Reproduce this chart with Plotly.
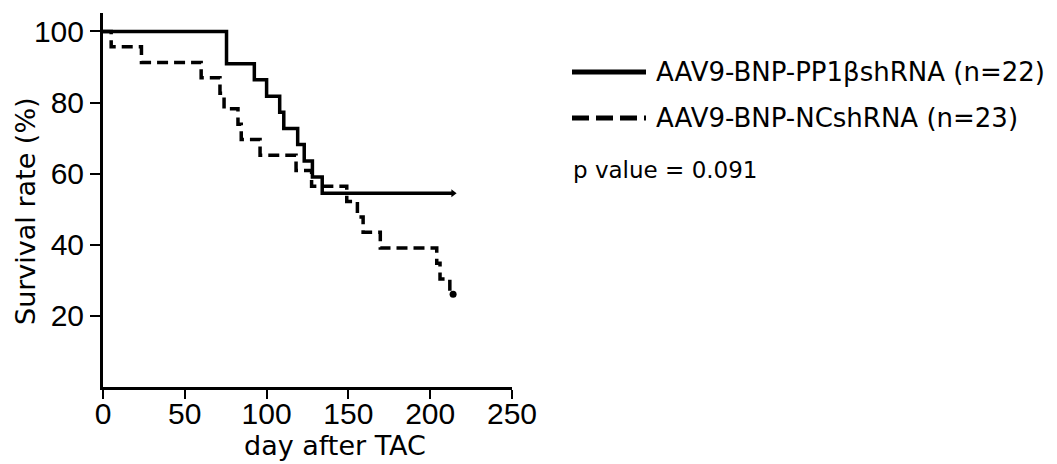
import plotly.graph_objects as go

# ---- data ----
series_names = ["AAV9-BNP-PP1βshRNA (n=22)", "AAV9-BNP-NCshRNA (n=23)"]
pp1_days = [0, 75.5, 92.5, 100, 108, 110.5, 119, 123, 128, 134]
pp1_surv = [100, 90.9, 86.4, 81.8, 77.3, 72.7, 68.2, 63.6, 59.1, 54.5]
pp1_end_day = 214

nc_days = [0, 5, 23.5, 60, 71.5, 74, 82.5, 84.5, 96, 118, 127.5, 149, 155.5, 159, 169.5, 204, 206, 212]
nc_surv = [100, 95.7, 91.3, 87.0, 82.6, 78.3, 73.9, 69.6, 65.2, 60.9, 56.5, 52.2, 47.8, 43.5, 39.1, 34.8, 30.4, 26.1]
nc_end_day = 214

x_ticks = [0, 50, 100, 150, 200, 250]
y_ticks = [20, 40, 60, 80, 100]
p_text = "p value = 0.091"

# ---- layout geometry (pixels, page has an 8px body margin) ----
OFF = 8
W, H = 1057 - OFF, 464 - OFF
PLOT_L, PLOT_R, PLOT_T, PLOT_B = 103, 512, 13, 387   # in reference pixels
ML = PLOT_L - OFF
MT = PLOT_T - OFF
MR = W - (PLOT_R - OFF)
MB = H - (PLOT_B - OFF)
PW = PLOT_R - PLOT_L
PH = PLOT_B - PLOT_T


def px_x(px):
    return (px - PLOT_L) / PW


def px_y(py):
    return (PLOT_B - py) / PH


TEXT_FONT = "DejaVu Sans"
TICK_FONT = "Liberation Sans"

fig = go.Figure()

fig.add_trace(go.Scatter(
    x=pp1_days + [pp1_end_day], y=pp1_surv + [pp1_surv[-1]],
    mode="lines", line=dict(color="black", width=3.5, shape="hv"),
    name=series_names[0], showlegend=False, cliponaxis=False))
fig.add_trace(go.Scatter(
    x=[pp1_end_day], y=[pp1_surv[-1]], mode="markers",
    marker=dict(color="black", size=7, symbol="triangle-right"),
    showlegend=False, cliponaxis=False))

fig.add_trace(go.Scatter(
    x=nc_days + [nc_end_day], y=nc_surv + [nc_surv[-1]],
    mode="lines", line=dict(color="black", width=3.5, shape="hv", dash="11px,6px"),
    name=series_names[1], showlegend=False, cliponaxis=False))
fig.add_trace(go.Scatter(
    x=[nc_end_day], y=[nc_surv[-1]], mode="markers",
    marker=dict(color="black", size=7, symbol="circle"),
    showlegend=False, cliponaxis=False))

# legend (manual)
legend_rows = [72, 118]
dashes = ["solid", "dash"]
for name, row, d in zip(series_names, legend_rows, dashes):
    fig.add_shape(type="line", xref="paper", yref="paper",
                  x0=px_x(572), x1=px_x(646), y0=px_y(row), y1=px_y(row),
                  line=dict(color="black", width=5, dash="17px,7px" if d == "dash" else "solid"))
    fig.add_annotation(xref="paper", yref="paper", x=px_x(654), y=px_y(row),
                       text=name, showarrow=False, xanchor="left", yanchor="middle",
                       font=dict(family=TEXT_FONT, size=26, color="black"))

fig.add_annotation(xref="paper", yref="paper", x=px_x(571), y=px_y(170),
                   text=p_text, showarrow=False, xanchor="left", yanchor="middle",
                   font=dict(family=TEXT_FONT, size=23, color="black"))

# axis titles
fig.add_annotation(xref="paper", yref="paper", x=px_x(335), y=px_y(445),
                   text="day after TAC", showarrow=False, xanchor="center", yanchor="middle",
                   font=dict(family=TEXT_FONT, size=27, color="black"))
fig.add_annotation(xref="paper", yref="paper", x=px_x(25), y=px_y(211),
                   text="Survival rate (%)", showarrow=False, textangle=-90,
                   xanchor="center", yanchor="middle",
                   font=dict(family=TEXT_FONT, size=27, color="black"))

fig.update_layout(
    width=W, height=H,
    margin=dict(l=ML, r=MR, t=MT, b=MB, pad=0),
    plot_bgcolor="white", paper_bgcolor="white",
    showlegend=False,
)
fig.update_xaxes(range=[0, 250], tickvals=x_ticks, ticktext=[str(v) for v in x_ticks],
                 showgrid=False, zeroline=False, showline=True, linecolor="black", linewidth=3,
                 ticks="outside", ticklen=9, tickwidth=2, tickcolor="black",
                 ticklabelstandoff=-11,
                 tickfont=dict(family=TICK_FONT, size=30, color="black"))
fig.update_yaxes(range=[0, 105.2], tickvals=y_ticks, ticktext=[str(v) for v in y_ticks],
                 showgrid=False, zeroline=False, showline=True, linecolor="black", linewidth=3,
                 ticks="outside", ticklen=10, tickwidth=2, tickcolor="black",
                 tickfont=dict(family=TICK_FONT, size=30, color="black"))

fig.write_html("out.html")
